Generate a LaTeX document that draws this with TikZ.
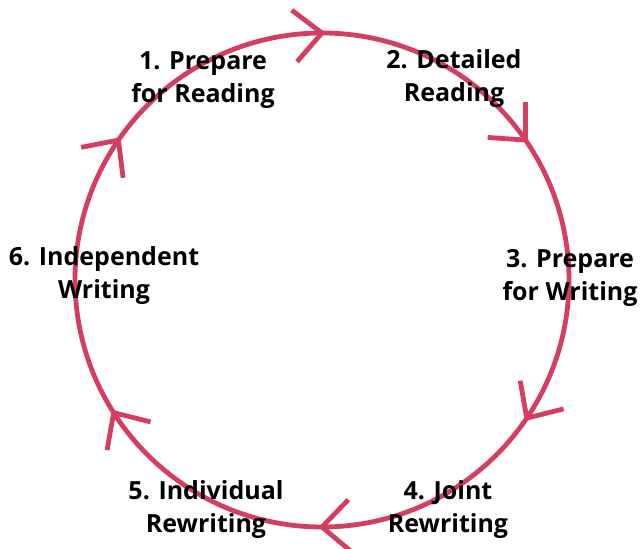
\documentclass[tikz,border=0pt]{standalone}
\usepackage{fontspec}
\setmainfont{Open Sans}
\usetikzlibrary{calc}
\definecolor{ring}{RGB}{212,63,97}
\begin{document}
\begin{tikzpicture}[x=1pt,y=1pt,
  ringline/.style={draw=ring, line width=4.8pt},
  chevron/.style={draw=ring, line width=4.8pt, line join=miter},
  steplabel/.style={align=center, font=\fontsize{25}{33}\selectfont\bfseries, text=black, inner sep=0pt}]
\useasboundingbox (0,0) rectangle (643,549);
\coordinate (c) at (322,269);
% the cycle
\draw[ringline] (c) circle[radius=247];
% open arrowheads along the cycle, clockwise
\foreach \name/\ang/\back in {a1/90/186, a2/34.5/133, a3/-34/57, a4/-90/3, a5/212.5/-57, a6/145.5/234} {
  \path (c) ++(\ang:247) coordinate (\name);
  \draw[chevron] (\name) ++(\back+43:38) -- (\name) -- ++(\back-43:38);
}
% stage labels
\node[steplabel] (l1) at (203,469) {1. Prepare\\for Reading};
\node[steplabel] (l2) at (454,470) {2. Detailed\\Reading};
\node[steplabel] (l3) at (570,271) {3. Prepare\\for Writing};
\node[steplabel] (l4) at (448,39) {4. Joint\\Rewriting};
\node[steplabel] (l5) at (206,39) {5. Individual\\Rewriting};
\node[steplabel] (l6) at (104,273) {6. Independent\\Writing};
\end{tikzpicture}
\end{document}
